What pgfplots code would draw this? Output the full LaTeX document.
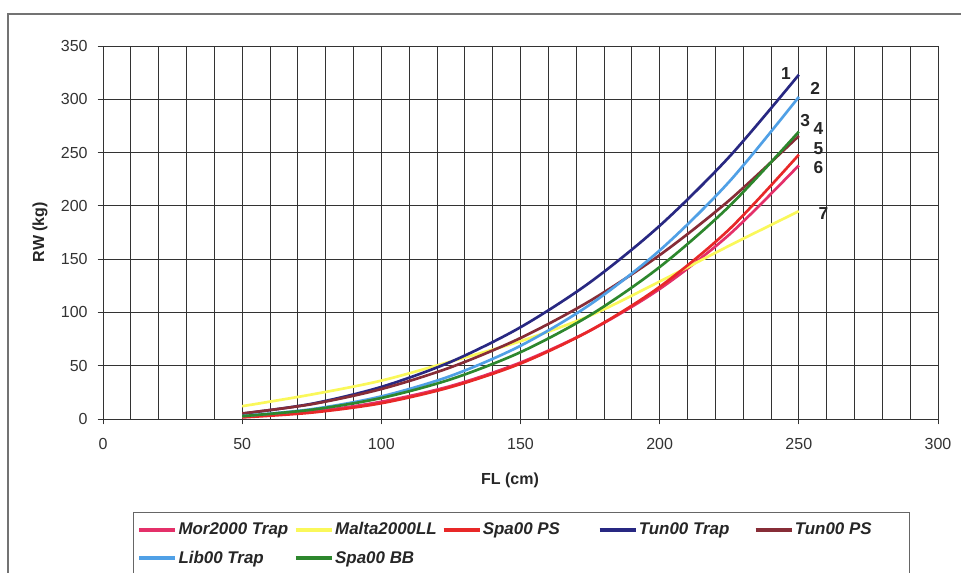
\documentclass[border=0pt]{standalone}
\usepackage{pgfplots}
\pgfplotsset{compat=1.18}
\usepackage{pgfplotstable}
\usepackage{fontspec}
\setmainfont{Liberation Sans}
\definecolor{cMor}{RGB}{228,48,105}
\definecolor{cMalta}{RGB}{250,248,90}
\definecolor{cSpaPS}{RGB}{232,40,40}
\definecolor{cTunTrap}{RGB}{40,40,130}
\definecolor{cTunPS}{RGB}{135,45,55}
\definecolor{cLib}{RGB}{80,160,230}
\definecolor{cSpaBB}{RGB}{45,135,45}
\pgfplotstableread{
FL Mor Malta SpaPS TunTrap TunPS Lib SpaBB
50  2.0   12.0  1.5   5.0   5.2   2.8   2.7
75  6.9   23.0  6.0   14.3  13.9  9.2   8.7
100 16.2  36.0  14.8  30.1  28.1  21.2  19.7
125 31.0  54.0  30.0  53.7  48.6  40.5  37.3
150 53.0  73.0  52.0  86.1  76.0  68.7  62.7
175 83.0  97.0  83.0  128.3 110.9 107.4 97.4
200 122.0 129.0 124.0 181.3 153.8 158.2 142.6
225 173.0 162.6 178.0 246.0 205.2 222.7 199.6
250 238.0 195.0 248.0 323.0 265.6 302.2 269.6
}\datatable
\begin{document}
\begin{tikzpicture}
\clip (-77.25pt,-114.75pt) rectangle (643.5pt,314.25pt);
\fill[white] (-77.25pt,-114.75pt) rectangle (643.5pt,314.25pt);
\draw[black!55, line width=1.2pt] (-71.25pt,-160pt) rectangle (720pt,303.75pt);
\begin{axis}[
  scale only axis, width=626.25pt, height=279.75pt,
  xmin=0, xmax=300, ymin=0, ymax=350,
  xtick distance=50, ytick distance=50, minor x tick num=4,
  grid=both,
  major grid style={black!80, line width=0.65pt},
  minor grid style={black!80, line width=0.65pt},
  tick align=outside, tick pos=left,
  major tick length=4pt, minor tick length=0pt,
  axis line style={black!80, line width=0.65pt},
  tick style={black!80, line width=0.65pt},
  ticklabel style={font=\fontsize{12}{14}\selectfont, text=black!80},
  yticklabel style={xshift=-4pt},
  xticklabel style={yshift=-7pt},
  /pgf/number format/assume math mode=true,
  xlabel={FL (cm)}, ylabel={RW (kg)},
  label style={font=\fontsize{12}{14}\selectfont\bfseries, text=black!85},
  xlabel style={at={(axis description cs:0.4874,-0.1635)}, anchor=center},
  ylabel style={at={(axis description cs:-0.0754,0.501)}, anchor=center},
  legend columns=5,
  legend style={at={(axis description cs:0.0359,-0.2493)}, anchor=north west,
    draw=black!60, line width=0.8pt, inner xsep=2.75pt, inner ysep=6.4pt,
    font=\fontsize{12.7}{14}\selectfont\bfseries\itshape, text=black!85,
    nodes={inner sep=1pt}, column sep=0pt, row sep=9pt},
  legend cell align=left,
  legend image code/.code={\draw[#1, line width=3pt] (0pt,0pt) -- (27pt,0pt);},
  every axis plot/.append style={line width=2pt, smooth, no markers},
]
\addplot[cMor] table[x=FL, y=Mor] {\datatable};
\addlegendentry{\makebox[85.5pt][l]{Mor2000 Trap}}
\addplot[cMalta] table[x=FL, y=Malta] {\datatable};
\addlegendentry{\makebox[78.75pt][l]{Malta2000LL}}
\addplot[cSpaPS] table[x=FL, y=SpaPS] {\datatable};
\addlegendentry{\makebox[85pt][l]{Spa00 PS}}
\addplot[cTunTrap] table[x=FL, y=TunTrap] {\datatable};
\addlegendentry{\makebox[85pt][l]{Tun00 Trap}}
\addplot[cTunPS] table[x=FL, y=TunPS] {\datatable};
\addlegendentry{\makebox[82.5pt][l]{Tun00 PS}}
\addplot[cLib] table[x=FL, y=Lib] {\datatable};
\addlegendentry{Lib00 Trap}
\addplot[cSpaBB] table[x=FL, y=SpaBB] {\datatable};
\addlegendentry{Spa00 BB}
\begin{scope}[every node/.style={font=\fontsize{13}{14}\selectfont\bfseries, text=black!85}]
\node at (axis cs:245.4,324.6) {1};
\node at (axis cs:255.9,310.6) {2};
\node at (axis cs:252.3,280.5) {3};
\node at (axis cs:257,273) {4};
\node at (axis cs:257,254) {5};
\node at (axis cs:257,236) {6};
\node at (axis cs:258.8,193) {7};
\end{scope}
\end{axis}
\end{tikzpicture}
\end{document}
